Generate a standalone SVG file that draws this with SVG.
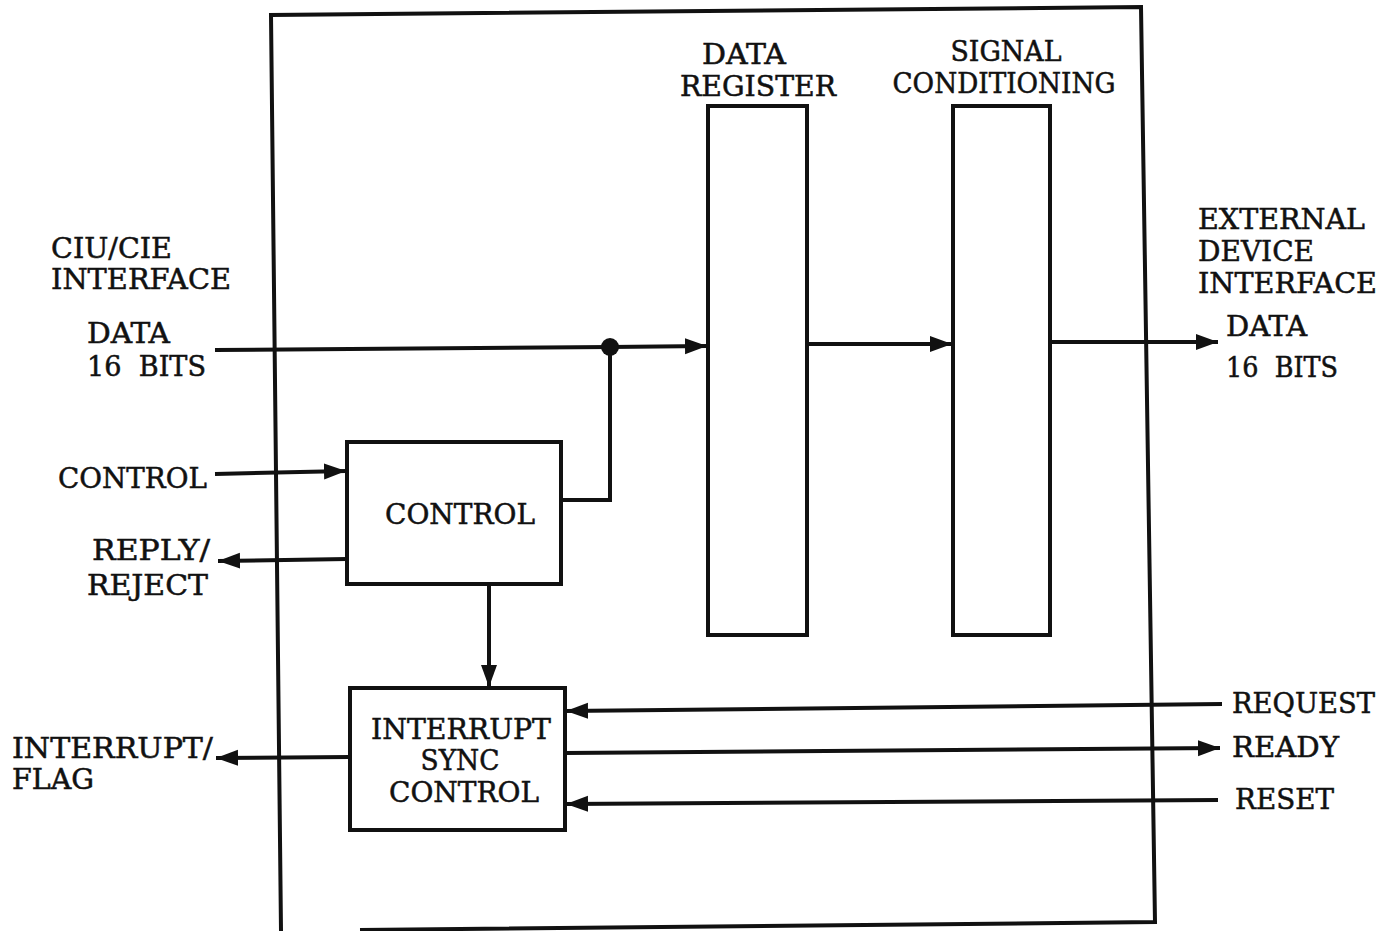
<svg xmlns="http://www.w3.org/2000/svg" width="1393" height="931" viewBox="0 0 1393 931">
<defs>
<marker id="ah" markerUnits="userSpaceOnUse" markerWidth="24" markerHeight="20" refX="22" refY="10" orient="auto">
<path d="M0,2 L22,10 L0,18 Z" fill="#111"/>
</marker>
<style>
.t{font-family:"DejaVu Serif","Liberation Serif",serif;font-size:27px;fill:#111;stroke:#111;stroke-width:0.5}
.b{fill:#fff;stroke:#111;stroke-width:4}
.c{fill:none;stroke:#111;stroke-width:4}
.ca{fill:none;stroke:#111;stroke-width:4;marker-end:url(#ah)}
</style>
</defs>
<rect width="1393" height="931" fill="#fff"/>
<g id="frame">
<path d="M281,931 L271,15 L1141,7 L1155,922 L360,930" class="c" stroke-width="3.5"/>
</g>
<g id="data-register">
<rect class="b" x="708" y="106" width="99" height="529"/>
<text class="t" x="744" y="64" text-anchor="middle" textLength="84" lengthAdjust="spacingAndGlyphs">DATA</text>
<text class="t" x="758" y="96" text-anchor="middle" textLength="156" lengthAdjust="spacingAndGlyphs">REGISTER</text>
</g>
<g id="signal-conditioning">
<rect class="b" x="953" y="106" width="97" height="529"/>
<text class="t" x="1006" y="61" text-anchor="middle" textLength="111" lengthAdjust="spacingAndGlyphs">SIGNAL</text>
<text class="t" x="1004" y="93" text-anchor="middle" textLength="223" lengthAdjust="spacingAndGlyphs">CONDITIONING</text>
</g>
<g id="control">
<rect class="b" x="347" y="442" width="214" height="142"/>
<text class="t" x="460" y="524" text-anchor="middle" textLength="150" lengthAdjust="spacingAndGlyphs">CONTROL</text>
</g>
<g id="interrupt-sync-control">
<rect class="b" x="350" y="688" width="215" height="142"/>
<text class="t" x="461" y="739" text-anchor="middle" textLength="180" lengthAdjust="spacingAndGlyphs">INTERRUPT</text>
<text class="t" x="460" y="770" text-anchor="middle" textLength="79" lengthAdjust="spacingAndGlyphs">SYNC</text>
<text class="t" x="464" y="802" text-anchor="middle" textLength="150" lengthAdjust="spacingAndGlyphs">CONTROL</text>
</g>
<g id="labels">
<text class="t" x="51" y="258" textLength="121" lengthAdjust="spacingAndGlyphs">CIU/CIE</text>
<text class="t" x="51" y="289" textLength="180" lengthAdjust="spacingAndGlyphs">INTERFACE</text>
<text class="t" x="87" y="343" textLength="83" lengthAdjust="spacingAndGlyphs">DATA</text>
<text class="t" x="87" y="376" textLength="119" lengthAdjust="spacingAndGlyphs" xml:space="preserve">16  BITS</text>
<text class="t" x="58" y="488" textLength="149" lengthAdjust="spacingAndGlyphs">CONTROL</text>
<text class="t" x="92" y="560" textLength="118" lengthAdjust="spacingAndGlyphs">REPLY/</text>
<text class="t" x="87" y="595" textLength="121" lengthAdjust="spacingAndGlyphs">REJECT</text>
<text class="t" x="12" y="758" textLength="201" lengthAdjust="spacingAndGlyphs">INTERRUPT/</text>
<text class="t" x="12" y="789" textLength="82" lengthAdjust="spacingAndGlyphs">FLAG</text>
<text class="t" x="1198" y="229" textLength="167" lengthAdjust="spacingAndGlyphs">EXTERNAL</text>
<text class="t" x="1198" y="261" textLength="116" lengthAdjust="spacingAndGlyphs">DEVICE</text>
<text class="t" x="1198" y="293" textLength="179" lengthAdjust="spacingAndGlyphs">INTERFACE</text>
<text class="t" x="1226" y="336" textLength="81" lengthAdjust="spacingAndGlyphs">DATA</text>
<text class="t" x="1226" y="377" textLength="112" lengthAdjust="spacingAndGlyphs" xml:space="preserve">16  BITS</text>
<text class="t" x="1232" y="713" textLength="143" lengthAdjust="spacingAndGlyphs">REQUEST</text>
<text class="t" x="1232" y="757" textLength="107" lengthAdjust="spacingAndGlyphs">READY</text>
<text class="t" x="1235" y="809" textLength="99" lengthAdjust="spacingAndGlyphs">RESET</text>
</g>
<g id="connectors">
<path class="ca" d="M215,350 L610,347 L707,346"/>
<circle cx="610" cy="347" r="9" fill="#111"/>
<path class="c" d="M610,347 L610,500 L561,500"/>
<path class="ca" d="M215,474 L346,471"/>
<path class="ca" d="M347,559 L218,561"/>
<path class="ca" d="M807,344 L952,344"/>
<path class="ca" d="M1050,342 L1218,342"/>
<path class="ca" d="M489,584 L489,687"/>
<path class="ca" d="M350,757 L216,758"/>
<path class="ca" d="M1222,704 L566,711"/>
<path class="ca" d="M565,753 L1220,748"/>
<path class="ca" d="M1218,800 L566,804"/>
</g>
</svg>
